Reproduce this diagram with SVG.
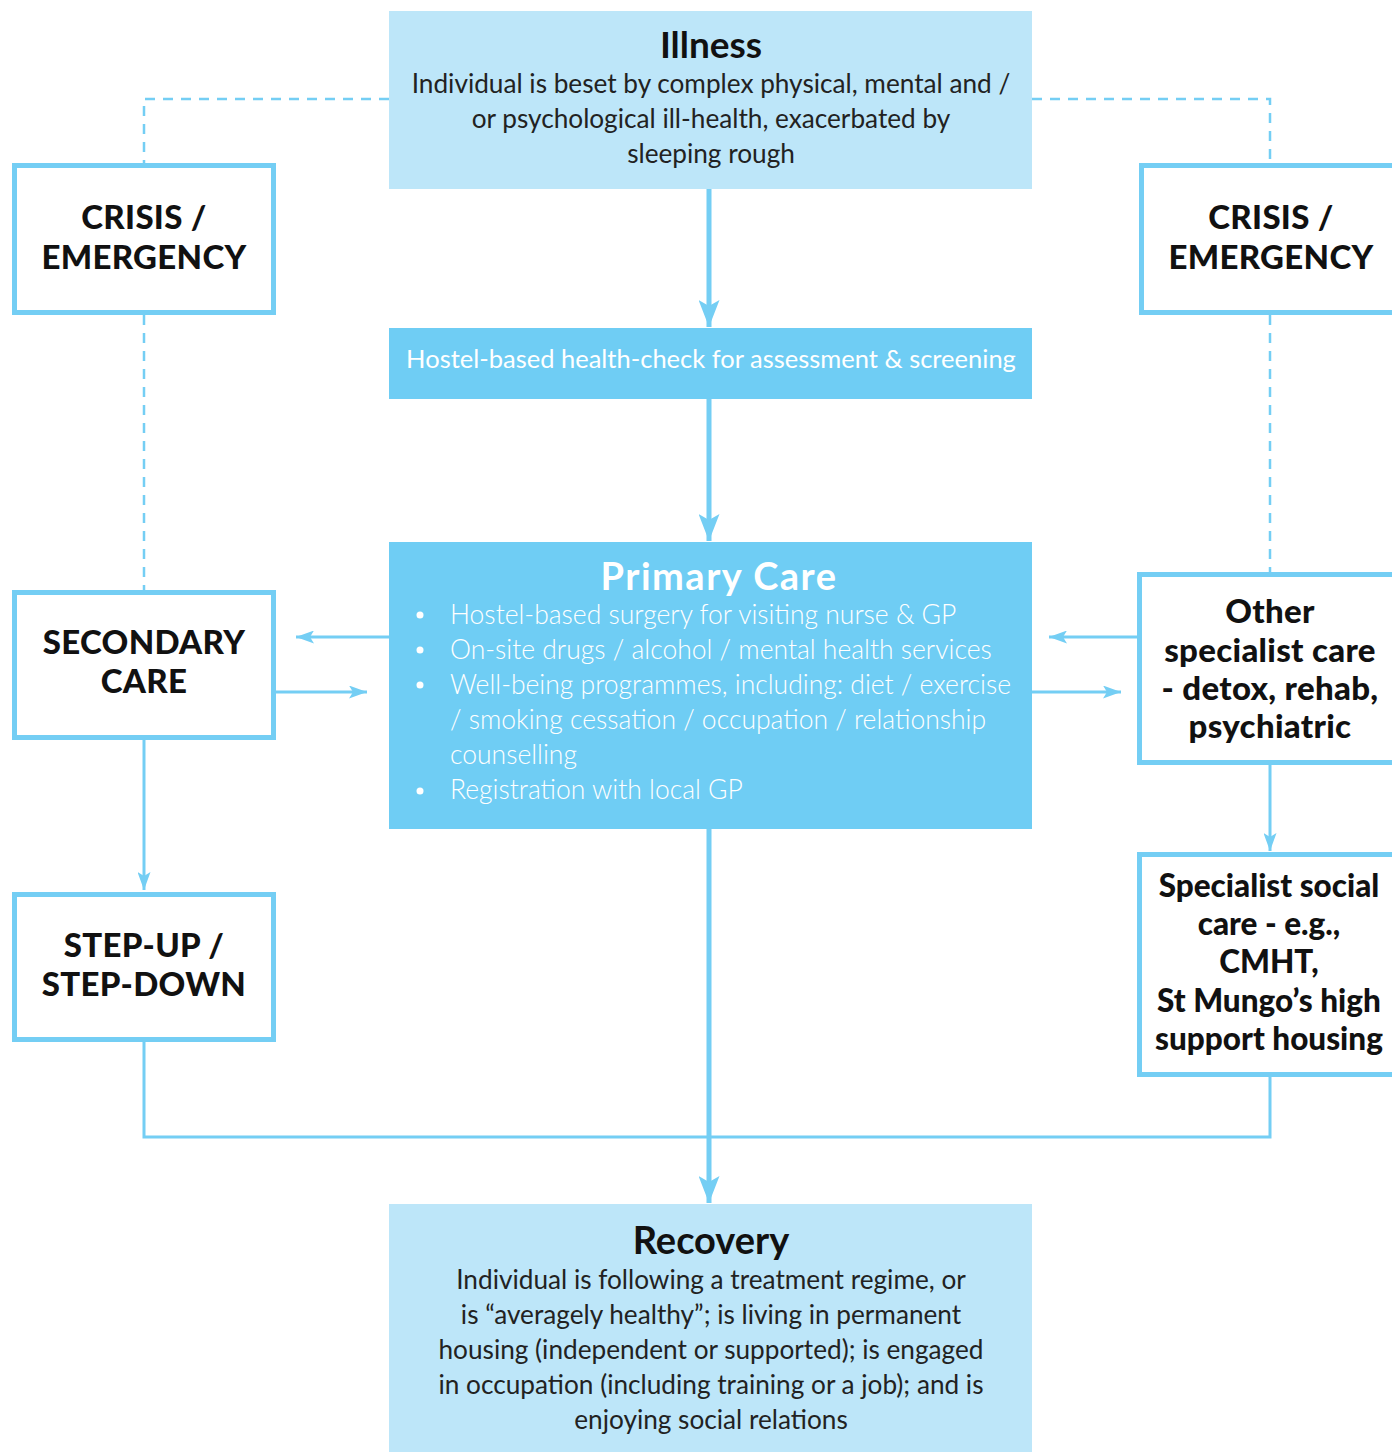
<svg xmlns="http://www.w3.org/2000/svg" width="1392" height="1452" viewBox="0 0 1392 1452">
<defs>
<style>
.light{fill:#bde6f9}
.mid{fill:#6fcdf4}
.box{fill:#fff;stroke:#74cef4;stroke-width:5}
.ln{fill:none;stroke:#74cef4;stroke-width:3}
.thick{fill:none;stroke:#74cef4;stroke-width:5}
.dash{fill:none;stroke:#74cef4;stroke-width:2.5;stroke-dasharray:10 8}
.ttl{font-family:Lato,"Open Sans",sans-serif;font-weight:700;font-size:37px;fill:#111;text-anchor:middle}
.body{font-family:Lato,"Open Sans",sans-serif;font-weight:400;font-size:26.2px;fill:#222;text-anchor:middle}
.wt{font-family:Lato,"Open Sans",sans-serif;font-weight:300;font-size:26.5px;fill:#fff}
.bx{font-family:Lato,"Open Sans",sans-serif;font-weight:900;font-size:33px;letter-spacing:0.3px;fill:#111;text-anchor:middle}
.bxs{font-size:31.5px;letter-spacing:0}
</style>
<marker id="ah" viewBox="0 0 27 21" refX="27" refY="10.5" markerWidth="27" markerHeight="21" markerUnits="userSpaceOnUse" orient="auto"><path d="M0,0 L27,10.5 L0,21 L6,10.5 z" fill="#74cef4"/></marker>
<marker id="ahs" viewBox="0 0 18 13" refX="18" refY="6.5" markerWidth="18" markerHeight="13" markerUnits="userSpaceOnUse" orient="auto"><path d="M0,0 L18,6.5 L0,13 L4,6.5 z" fill="#74cef4"/></marker>
</defs>
<rect width="1392" height="1452" fill="#fff"/>
<g id="connectors">
<path class="dash" d="M389,99 H144 V163"/>
<path class="dash" d="M144,315 V590"/>
<path class="dash" d="M1032,99 H1270 V163"/>
<path class="dash" d="M1270,315 V572"/>
<path class="thick" d="M709,189 V327" marker-end="url(#ah)"/>
<path class="thick" d="M709,399 V541" marker-end="url(#ah)"/>
<path class="thick" d="M709,829 V1203" marker-end="url(#ah)"/>
<path class="ln" d="M389,637 H296" marker-end="url(#ahs)"/>
<path class="ln" d="M276,692 H367" marker-end="url(#ahs)"/>
<path class="ln" d="M1137,637 H1049" marker-end="url(#ahs)"/>
<path class="ln" d="M1032,692 H1121" marker-end="url(#ahs)"/>
<path class="ln" d="M144,740 V890" marker-end="url(#ahs)"/>
<path class="ln" d="M1270,764 V851" marker-end="url(#ahs)"/>
<path class="ln" d="M144,1042 V1137 H1270 V1077"/>
</g>
<g id="illness">
<rect class="light" x="389" y="11" width="643" height="178"/>
<text class="ttl" x="711" y="58">Illness</text>
<text class="body" x="711" y="93">Individual is beset by complex physical, mental and /</text>
<text class="body" x="711" y="128">or psychological ill-health, exacerbated by</text>
<text class="body" x="711" y="163">sleeping rough</text>
</g>
<g id="hostel">
<rect class="mid" x="389" y="328" width="643" height="71"/>
<text class="wt" x="711" y="368" style="text-anchor:middle;font-weight:400;font-size:25.5px">Hostel-based health-check for assessment &amp; screening</text>
</g>
<g id="primary">
<rect class="mid" x="389" y="542" width="643" height="287"/>
<text class="ttl" x="719" y="590" style="fill:#fff;font-size:38px;letter-spacing:1.5px">Primary Care</text>
<g class="wt">
<circle cx="420" cy="615" r="3.5" fill="#fff"/>
<circle cx="420" cy="650" r="3.5" fill="#fff"/>
<circle cx="420" cy="685" r="3.5" fill="#fff"/>
<circle cx="420" cy="791" r="3.5" fill="#fff"/>
<text x="450" y="624">Hostel-based surgery for visiting nurse &amp; GP</text>
<text x="450" y="659">On-site drugs / alcohol / mental health services</text>
<text x="450" y="694">Well-being programmes, including: diet / exercise</text>
<text x="450" y="729">/ smoking cessation / occupation / relationship</text>
<text x="450" y="764">counselling</text>
<text x="450" y="799">Registration with local GP</text>
</g>
</g>
<g id="recovery">
<rect class="light" x="389" y="1204" width="643" height="250"/>
<text class="ttl" x="711" y="1254" style="font-size:38px">Recovery</text>
<text class="body" x="711" y="1289">Individual is following a treatment regime, or</text>
<text class="body" x="711" y="1324">is “averagely healthy”; is living in permanent</text>
<text class="body" x="711" y="1359">housing (independent or supported); is engaged</text>
<text class="body" x="711" y="1394">in occupation (including training or a job); and is</text>
<text class="body" x="711" y="1429">enjoying social relations</text>
</g>
<g id="crisis-left">
<rect class="box" x="14.5" y="165.5" width="259" height="147"/>
<text class="bx" x="144" y="229">CRISIS /</text>
<text class="bx" x="144" y="269">EMERGENCY</text>
</g>
<g id="secondary">
<rect class="box" x="14.5" y="592.5" width="259" height="145"/>
<text class="bx" x="144" y="654">SECONDARY</text>
<text class="bx" x="144" y="693">CARE</text>
</g>
<g id="stepup">
<rect class="box" x="14.5" y="894.5" width="259" height="145"/>
<text class="bx" x="144" y="957">STEP-UP /</text>
<text class="bx" x="144" y="996">STEP-DOWN</text>
</g>
<g id="crisis-right">
<rect class="box" x="1141.5" y="165.5" width="259" height="147"/>
<text class="bx" x="1271" y="229">CRISIS /</text>
<text class="bx" x="1271" y="269">EMERGENCY</text>
</g>
<g id="other">
<rect class="box" x="1139.5" y="574.5" width="262" height="188"/>
<text class="bx" x="1270" y="623">Other</text>
<text class="bx" x="1270" y="662">specialist care</text>
<text class="bx" x="1270" y="700">- detox, rehab,</text>
<text class="bx" x="1270" y="738">psychiatric</text>
</g>
<g id="social">
<rect class="box" x="1139.5" y="854.5" width="262" height="220"/>
<text class="bx bxs" x="1269" y="897">Specialist social</text>
<text class="bx bxs" x="1269" y="935">care - e.g.,</text>
<text class="bx bxs" x="1269" y="973">CMHT,</text>
<text class="bx bxs" x="1269" y="1012">St Mungo’s high</text>
<text class="bx bxs" x="1269" y="1050">support housing</text>
</g>
</svg>
